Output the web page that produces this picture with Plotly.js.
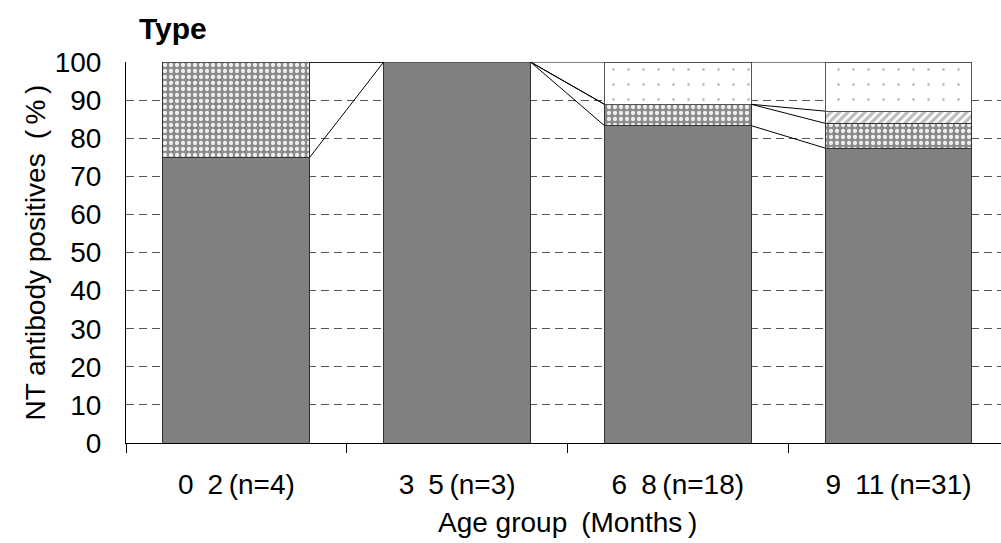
<!DOCTYPE html>
<html>
<head>
<meta charset="utf-8">
<script src="https://cdn.plot.ly/plotly-3.0.1.min.js"></script>
<style>html,body{margin:0;padding:0;background:#fff;}#chart{width:1001px;height:543px;}</style>
</head>
<body>
<div id="chart"></div>
<script>
// Data (percent of NT antibody positives by type, per age group)
const categories = ["0\u20022\u2009(n=4)", "3\u20025\u2009(n=3)", "6\u20028\u2009(n=18)", "9\u200211\u2009(n=31)"];
const series1 = [75, 100, 83.3, 77.4];
const series2 = [25, 0, 5.6, 6.5];
const series3 = [0, 0, 0, 3.2];
const series4 = [0, 0, 11.1, 12.9];

const xs = categories.map((c, i) => i);
const barWidth = 0.665;
const lineColor = '#333333';
const fontFam = '"Liberation Sans", Arial, sans-serif';

const seriesList = [series1, series2, series3, series4];
const markers = [
  {color: '#808080', line: {color: lineColor, width: 1}},
  {color: '#8a8a8a', line: {color: lineColor, width: 1},
   pattern: {shape: '.', bgcolor: '#8a8a8a', fgcolor: '#eeeeee', size: 6, solidity: 0.4, fillmode: 'replace'}},
  {color: '#ffffff', line: {color: lineColor, width: 1},
   pattern: {shape: '/', bgcolor: '#ffffff', fgcolor: '#bdbdbd', size: 6, solidity: 0.55, fillmode: 'replace'}},
  {color: '#ffffff', line: {color: '#555555', width: 1},
   pattern: {shape: '.', bgcolor: '#ffffff', fgcolor: '#b0b0b0', size: 15, solidity: 0.02, fillmode: 'replace'}}
];

const traces = seriesList.map((s, k) => ({
  type: 'bar', x: xs, y: s, width: barWidth, marker: markers[k],
  hoverinfo: 'y', showlegend: false
}));

// series lines connecting cumulative tops of adjacent bars
const cum = [];
let run = xs.map(() => 0);
seriesList.forEach(s => { run = run.map((v, i) => v + s[i]); cum.push(run.slice()); });
cum.forEach(level => {
  for (let i = 0; i < xs.length - 1; i++) {
    traces.push({
      type: 'scatter', mode: 'lines',
      x: [xs[i] + barWidth / 2, xs[i + 1] - barWidth / 2],
      y: [level[i], level[i + 1]],
      line: {color: '#000000', width: 1}, hoverinfo: 'skip', showlegend: false
    });
  }
});

const layout = {
  width: 1001, height: 543,
  margin: {l: 126, r: 0, t: 62, b: 100, pad: 0},
  barmode: 'stack',
  paper_bgcolor: '#ffffff', plot_bgcolor: '#ffffff',
  font: {family: fontFam, color: '#000', size: 28},
  showlegend: false,
  xaxis: {
    range: [-0.5, 3.464],
    tickmode: 'array', tickvals: xs, ticktext: categories,
    ticks: 'outside', ticklen: 16, tickcolor: 'rgba(0,0,0,0)',
    tickfont: {size: 28, family: fontFam, color: '#000'},
    showline: true, linecolor: '#000', linewidth: 1,
    showgrid: false, zeroline: false,
    minor: {tickmode: 'array', tickvals: [-0.5, 0.5, 1.5, 2.5], ticks: 'outside', ticklen: 9, tickcolor: '#000', tickwidth: 1, showgrid: false}
  },
  yaxis: {
    range: [0, 100], tickmode: 'linear', tick0: 0, dtick: 10,
    ticks: 'outside', ticklen: 18, tickcolor: 'rgba(0,0,0,0)',
    tickfont: {size: 28, family: fontFam, color: '#000'},
    showline: true, linecolor: '#000', linewidth: 1,
    showgrid: true, gridcolor: '#555555', gridwidth: 1, griddash: '8px,5px',
    zeroline: false
  },
  annotations: [
    {text: '<b>Type</b>', xref: 'paper', yref: 'paper', x: (137 - 126) / 875, xanchor: 'left',
     y: 1 + (62 - 29) / 381, yanchor: 'middle', showarrow: false, font: {size: 30, family: fontFam, color: '#000'}},
    {text: 'NT antibody positives\u2002(\u2009%\u2009)', xref: 'paper', yref: 'paper', x: (35 - 126) / 875, xanchor: 'center',
     y: 0.5, yanchor: 'middle', textangle: -90, showarrow: false, font: {size: 28, family: fontFam, color: '#000'}},
    {text: 'Age group\u2002(Months\u2009)', xref: 'paper', yref: 'paper', x: (567 - 126) / 875, xanchor: 'center',
     y: (443 - 522) / 381, yanchor: 'middle', showarrow: false, font: {size: 28, family: fontFam, color: '#000'}}
  ]
};

Plotly.newPlot('chart', traces, layout, {displayModeBar: false, staticPlot: true});
</script>
</body>
</html>
